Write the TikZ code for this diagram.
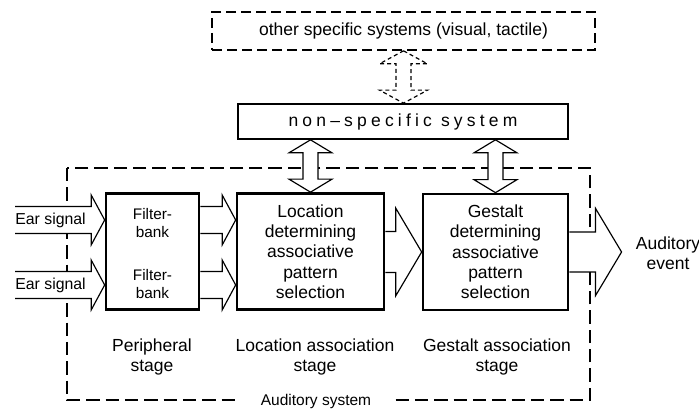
\documentclass[tikz,border=0pt]{standalone}
\usepackage{fontspec}
\setmainfont{Liberation Sans}
\usetikzlibrary{positioning}
\usetikzlibrary{calc}
\usetikzlibrary{backgrounds}

\newcommand{\bigtxt}{\fontsize{10.5}{12.2}\selectfont}
\newcommand{\midtxt}{\fontsize{9.5}{11}\selectfont}

\tikzset{
  stagebox/.style={draw, line width=1.6pt, inner sep=0pt, align=center, font=\bigtxt},
  hollow/.style={draw, line width=0.7pt, fill=white, line join=miter},
  % horizontal block arrow: shaft half width, head half width, head length (px)
  harrow/.style n args={3}{hollow, to path={let \p1=(\tikztostart), \p2=(\tikztotarget) in
    (\x1,{\y2+#1*0.6pt}) -- ({\x2-#3*0.6pt},{\y2+#1*0.6pt}) -- ({\x2-#3*0.6pt},{\y2+#2*0.6pt})
    -- (\x2,\y2) -- ({\x2-#3*0.6pt},{\y2-#2*0.6pt}) -- ({\x2-#3*0.6pt},{\y2-#1*0.6pt}) -- (\x1,{\y2-#1*0.6pt})}},
  % vertical double block arrow, top to bottom
  varrow/.style n args={3}{hollow, to path={let \p1=(\tikztostart), \p2=(\tikztotarget) in
    (\x1,\y1) -- ({\x1+#2*0.6pt},{\y1-#3*0.6pt}) -- ({\x1+#1*0.6pt},{\y1-#3*0.6pt})
    -- ({\x1+#1*0.6pt},{\y2+#3*0.6pt}) -- ({\x1+#2*0.6pt},{\y2+#3*0.6pt}) -- (\x1,\y2)
    -- ({\x1-#2*0.6pt},{\y2+#3*0.6pt}) -- ({\x1-#1*0.6pt},{\y2+#3*0.6pt})
    -- ({\x1-#1*0.6pt},{\y1-#3*0.6pt}) -- ({\x1-#2*0.6pt},{\y1-#3*0.6pt}) -- cycle}},
  sysframe/.style={line width=1.6pt, dash pattern=on 8pt off 3.6pt},
  label/.style={align=center, font=\bigtxt, inner sep=0pt}
}

\begin{document}
\begin{tikzpicture}[x=0.6pt, y=-0.6pt]
\useasboundingbox (0,0) rectangle (699,410);

%upper boxes
\node[draw, line width=1pt, dash pattern=on 6pt off 3pt, minimum width=229.8pt, minimum height=22.8pt, font=\bigtxt] (other) at (403.5,31) {other specific systems (visual, tactile)};
\node[draw, line width=1pt, minimum width=198pt, minimum height=21pt, font=\bigtxt] (ns) at (403,121.5) {\addfontfeature{LetterSpace=24}non--specific system};

%stage boxes
\node[stagebox, minimum width=55.8pt, minimum height=69.6pt] (fb) at (152.5,251.5) {};
\node[stagebox, minimum width=88.2pt, minimum height=69.6pt] (loc) at (310.5,251.5) {Location\\determining\\associative\\pattern\\selection};
\node[stagebox, minimum width=87pt, minimum height=69.6pt] (gest) at (495.5,252) {Gestalt\\determining\\associative\\pattern\\selection};

\node[anchor=west, inner sep=0pt, font=\midtxt] (ear1) at (15,220) {Ear signal};
\node[anchor=west, inner sep=0pt, font=\midtxt] (ear2) at (15,285) {Ear signal};
\node[align=center, inner sep=0pt, font=\fontsize{9.2}{10.3}\selectfont] (fbt1) at (152.5,223) {Filter-\\bank};
\node[align=center, inner sep=0pt, font=\fontsize{9.2}{10.3}\selectfont] (fbt2) at (152.5,284) {Filter-\\bank};

\node[label] (event) at (668,253) {Auditory\\event};
\coordinate (evtip) at ($(gest.east -| event.west)+(-14,0)$);

%stage labels
\node[label] (st1) at (152,357) {Peripheral\\stage};
\node[label] (st2) at (315,357) {Location association\\stage};
\node[label] (st3) at (497,357) {Gestalt association\\stage};

\begin{scope}[on background layer]
%auditory system frame
\draw[sysframe] (67,168) rectangle (590,400);

%block arrows
\draw[harrow={13.5}{25}{13.5}] (ear1.west) to (ear1 -| fb.west);
\draw[harrow={13.5}{25}{13.5}] (ear2.west) to (ear2 -| fb.west);
\draw[harrow={13.5}{25}{13.5}] (ear1 -| fb.east) to (ear1 -| loc.west);
\draw[harrow={13.5}{25}{13.5}] (ear2 -| fb.east) to (ear2 -| loc.west);
\draw[harrow={20.5}{44}{26}] (loc.east) to (gest.west);
\draw[harrow={20}{43.5}{26}] (gest.east) to (evtip);

\draw[varrow={7.5}{21.5}{13}] (loc.north |- ns.south) to (loc.north);
\draw[varrow={7.5}{21.5}{13}] (gest.north |- ns.south) to (gest.north);
\draw[varrow={7.5}{24}{13}, dash pattern=on 2.4pt off 1.8pt] (other.south) to (ns.north);
\end{scope}

\node[fill=white, inner xsep=14pt, inner ysep=1pt, font=\fontsize{9.3}{11}\selectfont] (audsys) at (316,401) {Auditory system};

\end{tikzpicture}
\end{document}
